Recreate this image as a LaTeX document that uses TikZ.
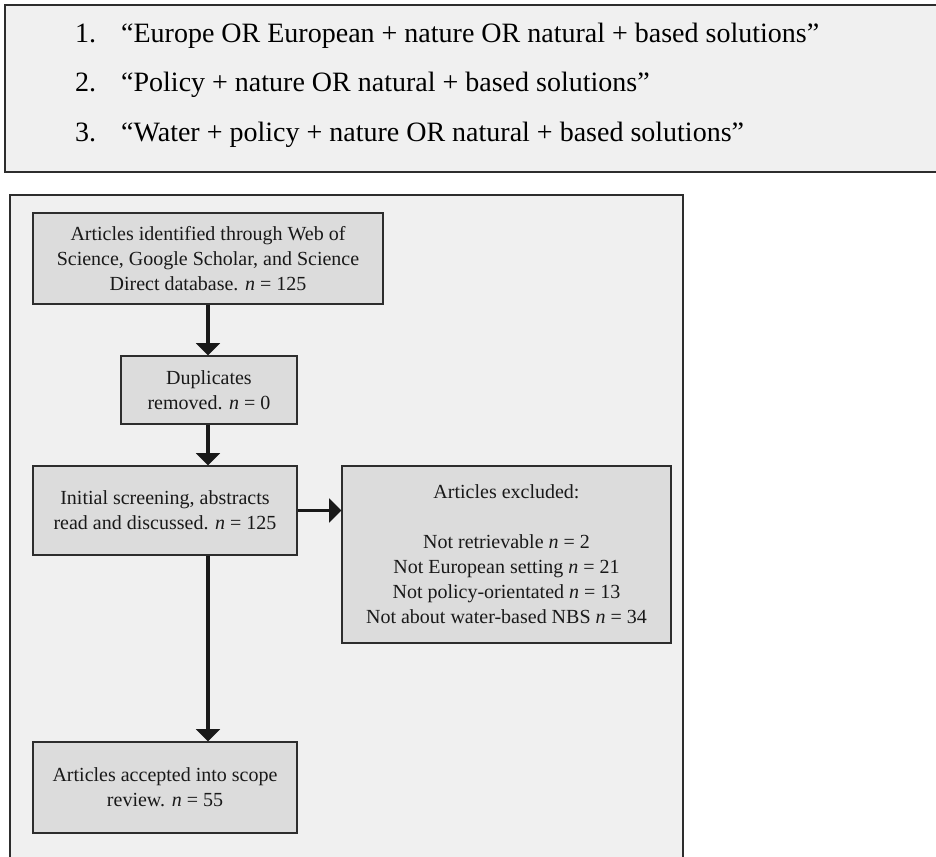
\documentclass[tikz,border=0pt]{standalone}
\usepackage{fontspec}
\setmainfont{Liberation Serif}
\usetikzlibrary{arrows}

\definecolor{panelgray}{RGB}{240,240,240}
\definecolor{boxgray}{RGB}{220,220,220}
\definecolor{edgegray}{RGB}{45,45,45}

\tikzset{
  panel/.style={draw=edgegray, fill=panelgray, line width=2.8pt},
  stagebox/.style={draw=edgegray, fill=boxgray, line width=1.4pt, align=center,
    inner sep=0pt, text=black!90, font=\fontsize{20}{25}\selectfont},
  query/.style={anchor=base west, inner sep=0pt, font=\fontsize{28}{34}\selectfont},
  flow/.style={->, draw=black!90, line width=3.4pt}
}

\begin{document}
\begin{tikzpicture}[x=1pt, y=-1pt, >=triangle 90]
  \useasboundingbox (0,0) rectangle (936,856);

  % search strings
  \filldraw [panel] (5,5) rectangle (950,172);
  \node [query] (num1) at (75,43) {1.};
  \node [query] (num2) at (75,92) {2.};
  \node [query] (num3) at (75,142) {3.};
  \node [query] (qry1) at (121,43) {``Europe OR European + nature OR natural + based solutions''};
  \node [query] (qry2) at (121,92) {``Policy + nature OR natural + based solutions''};
  \node [query] (qry3) at (121,142) {``Water + policy + nature OR natural + based solutions''};

  % screening flow
  \filldraw [panel] (10,195) rectangle (683,870);
  \node [stagebox, minimum width=350, minimum height=91] (found) at (208,258.5)
    {Articles identified through Web of\\Science, Google Scholar, and Science\\Direct database. \textit{n} = 125};
  \node [stagebox, minimum width=176, minimum height=68] (dupes) at (209,390)
    {Duplicates\\removed. \textit{n} = 0};
  \node [stagebox, minimum width=264, minimum height=89] (screen) at (165,510.5)
    {Initial screening, abstracts\\read and discussed. \textit{n} = 125};
  \node [stagebox, minimum width=329, minimum height=177] (excl) at (506.5,554.5)
    {Articles excluded:\\[25pt]Not retrievable \textit{n} = 2\\Not European setting \textit{n} = 21\\Not policy-orientated \textit{n} = 13\\Not about water-based NBS \textit{n} = 34};
  \node [stagebox, minimum width=264, minimum height=91] (accept) at (165,787.5)
    {Articles accepted into scope\\review. \textit{n} = 55};

  \draw [flow] (found.south) -- (found.south |- dupes.north);
  \draw [flow] (dupes.south -| found.south) -- (found.south |- screen.north);
  \draw [flow] (screen.east) -- (excl.west |- screen.east);
  \draw [flow] (found.south |- screen.south) -- (found.south |- accept.north);
\end{tikzpicture}
\end{document}
